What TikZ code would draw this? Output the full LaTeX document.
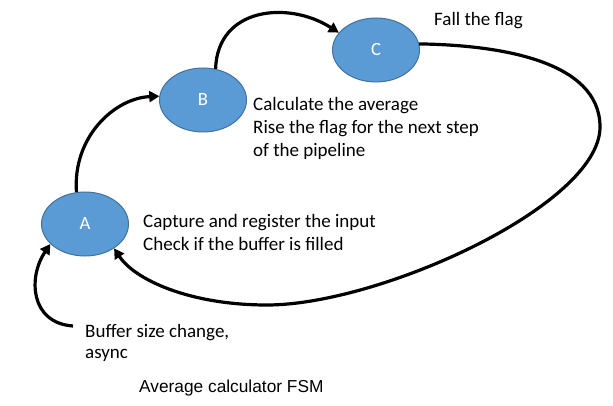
\documentclass[tikz,border=0pt]{standalone}
\usepackage{fontspec}
\setmainfont{Carlito}
\newfontfamily\arialfont{Liberation Sans}
\usetikzlibrary{shapes.geometric,arrows.meta}
\definecolor{statefill}{HTML}{5B9BD5}
\definecolor{stateline}{HTML}{41719C}
\begin{document}
\begin{tikzpicture}[x=1pt,y=1pt,
        state/.style={ellipse,fill=statefill,draw=stateline,line width=1pt,minimum width=87pt,minimum height=64pt,inner sep=0pt,text=white,font=\fontsize{18.67}{22}\selectfont},
        arr/.style={line width=3.2pt,-{Triangle[length=10pt,width=11pt]}},
        lbl/.style={anchor=base west,align=left,inner sep=0pt,font=\fontsize{19}{23}\selectfont}]
        \useasboundingbox (0,0) rectangle (613,405);
        \node [state] (A) at (85,181) {A};
        \node [state] (B) at (203,305) {B};
        \node [state] (C) at (376,355) {C};
        \coordinate (loopR) at (600,278);
        \coordinate (loopB) at (267,100);
        \coordinate (bufin) at (73,79);
        \draw [arr] (A.105) .. controls +(-4,55) and +(-45,-2) .. (B.175);
        \draw [arr] (B.68) .. controls +(2,62) and +(-50,32) .. (C.155);
        \draw [arr] (C.8) .. controls (497,360) and (600,345) .. (loopR) .. controls (600,200) and (380,100) .. (loopB) .. controls (190,100) and (135,125) .. (A.-40);
        \draw [arr] (bufin) .. controls (30,82) and (28,128) .. (A.210);
        % base of a multi-line node is the last line
        \node [lbl] (flag) at (434,379) {Fall the flag};
        \node [lbl] (avg) at (253,248) {Calculate the average\\Rise the flag for the next step\\of the pipeline};
        \node [lbl] (cap) at (143,155) {Capture and register the input\\Check if the buffer is filled};
        \node [lbl,font=\fontsize{19}{20.5}\selectfont] (buf) at (85,47) {Buffer size change,\\async};
        \node [lbl,font=\arialfont\fontsize{17.3}{20}\selectfont] (title) at (139,13) {Average calculator FSM};
    \end{tikzpicture}
\end{document}
